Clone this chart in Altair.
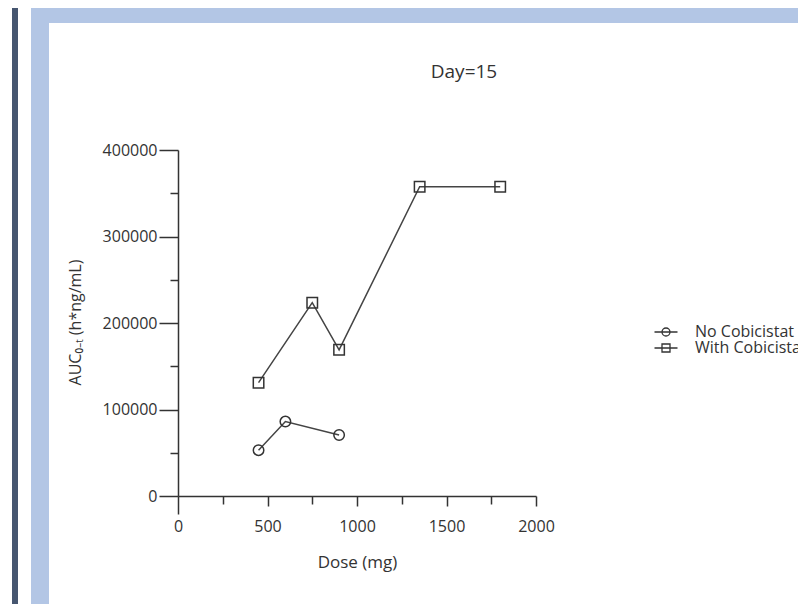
import altair as alt
import pandas as pd

# ---------------- data ----------------
series_names = ["No Cobicistat", "With Cobicistat"]
dose_no = [450, 600, 900]
auc_no = [53000, 86000, 70500]
dose_with = [450, 750, 900, 1350, 1800]
auc_with = [131000, 223500, 169000, 357500, 357500]

x_ticks = list(range(0, 2001, 250))
y_ticks = list(range(0, 400001, 50000))

title_text = "Day=15"
x_title = "Dose (mg)"
y_title = "AUC\u2080\u208b\u209c (h*ng/mL)"

# ---------------- style ----------------
FONT = "Open Sans"
INK = "#333333"
LINE = "#444444"
DARK = "#465670"
BLUE = "#b3c6e5"

df = pd.DataFrame({
    "Dose": dose_no + dose_with,
    "AUC": auc_no + auc_with,
    "Series": [series_names[0]] * len(dose_no) + [series_names[1]] * len(dose_with),
})

x_enc = alt.X(
    "Dose:Q",
    scale=alt.Scale(domain=[0, 2000], nice=False, zero=False),
    axis=alt.Axis(
        values=x_ticks,
        format="d",
        labelExpr="datum.value % 500 === 0 ? datum.label : ''",
        title=x_title,
        titleX=179, titleY=66, titleBaseline="middle", titleAlign="center",
        titleFont=FONT, titleFontSize=17, titleFontWeight="normal", titleColor=INK,
        labelFont=FONT, labelFontSize=16, labelColor=INK,
        labelFlush=False, labelOverlap=False,
        labelPadding={"condition": {"test": "datum.value === 0", "value": 4}, "value": 12},
        tickSize={"condition": [{"test": "datum.value === 0", "value": 18},
                                {"test": "datum.value % 500 === 0", "value": 10}],
                  "value": 8},
        tickColor=INK, tickWidth=1.5, domainColor=INK, domainWidth=1.5,
        grid=False,
    ),
)

y_enc = alt.Y(
    "AUC:Q",
    scale=alt.Scale(domain=[0, 400000], nice=False, zero=False),
    axis=alt.Axis(
        values=y_ticks,
        format="d",
        labelExpr="datum.value % 100000 === 0 ? datum.label : ''",
        title=y_title,
        titleX=-103, titleY=172, titleAngle=-90, titleBaseline="middle", titleAlign="center",
        titleFont=FONT, titleFontSize=16, titleFontWeight="normal", titleColor=INK,
        labelFont=FONT, labelFontSize=16, labelColor=INK,
        labelOverlap=False, labelPadding=2, labelBaseline="middle",
        tickSize={"condition": {"test": "datum.value % 100000 === 0", "value": 19}, "value": 8},
        tickColor=INK, tickWidth=1.5, domainColor=INK, domainWidth=1.5,
        grid=False,
    ),
)

one = alt.Data(values=[{}])


def band(x1, x2, y1, y2, color):
    return alt.Chart(one).mark_rect(color=color).encode(
        x=alt.value(x1), x2=alt.value(x2), y=alt.value(y1), y2=alt.value(y2)
    )


frame = [
    band(-166, -160, -142, 462, DARK),
    band(-147, -129, -142, 462, BLUE),
    band(-147, 640, -142, -127, BLUE),
]

base = alt.Chart(df)

lines = base.mark_line(color=LINE, strokeWidth=1.5).encode(
    x=x_enc, y=y_enc, detail="Series:N"
)

points = base.mark_point(filled=False, color=INK, strokeWidth=1.5, size=110, opacity=1).encode(
    x=x_enc, y=y_enc,
    shape=alt.Shape("Series:N", scale=alt.Scale(domain=series_names, range=["circle", "square"]),
                    legend=None),
)

legend_shapes = [
    "M-2.3,0H2.3M0.8,0A0.8,0.8 0 1,1 -0.8,0A0.8,0.8 0 1,1 0.8,0",
    "M-2.3,0H2.3M-0.8,-0.8H0.8V0.8H-0.8Z",
]

legend_layer = base.transform_filter("false").mark_point(
    filled=False, color=INK, strokeWidth=1.5, opacity=1
).encode(
    x=x_enc, y=y_enc,
    shape=alt.Shape(
        "Series:N",
        scale=alt.Scale(domain=series_names, range=legend_shapes),
        legend=alt.Legend(
            title=None, orient="none", legendX=480, legendY=174,
            symbolSize=100, symbolStrokeColor=INK, symbolStrokeWidth=1.3,
            symbolFillColor="transparent", symbolOpacity=1,
            labelFont=FONT, labelFontSize=16, labelColor=INK, labelOffset=21,
            rowPadding=0, padding=0, labelLimit=300,
        ),
    ),
)

chart = alt.layer(*frame, lines, points, legend_layer).resolve_scale(
    shape="independent"
).properties(
    width=358,
    height=346,
    title=alt.Title(title_text, font=FONT, fontSize=19, fontWeight="normal", color=INK,
                    anchor="middle", frame="group", dx=107, dy=83, offset=0, baseline="middle"),
    autosize=alt.AutoSizeParams(type="none"),
    padding={"left": 170, "top": 142, "right": 262, "bottom": 108},
    background="white",
).configure_view(stroke=None)

chart.save("out.html", embed_options={"renderer": "svg", "actions": False})
